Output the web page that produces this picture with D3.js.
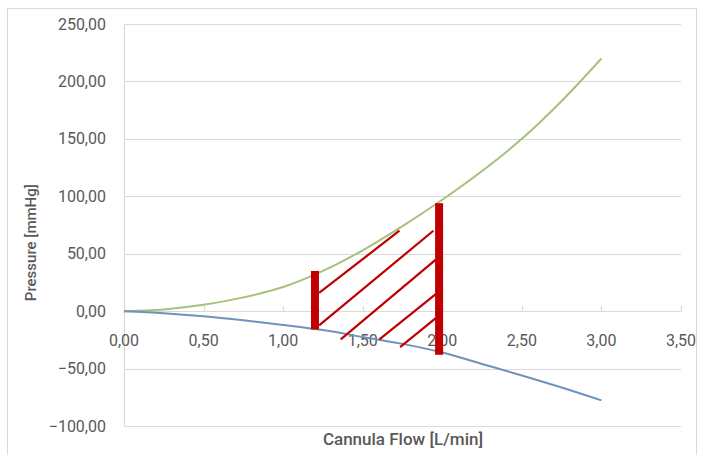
<!DOCTYPE html>
<html>
<head>
<meta charset="utf-8">
<script src="https://cdn.jsdelivr.net/npm/d3@7"></script>
<style>
  html, body { margin: 0; padding: 0; background: #fff; }
  svg { display: block; }
  text { font-family: Roboto, "Liberation Sans", sans-serif; }
</style>
</head>
<body>
<svg id="chart" width="704" height="455"></svg>
<script>
// ---- data ----
const flow = [0, 0.25, 0.5, 0.75, 1.0, 1.25, 1.5, 1.75, 2.0, 2.25, 2.5, 2.75, 3.0];
const upperPressure = [0, 1.5, 5.5, 12, 21, 35, 53, 74, 97, 122, 150, 183, 220];
const lowerPressure = [0, -1.8, -4.5, -8, -12, -16.5, -22.5, -28.5, -36, -46, -56, -66.5, -77.7];
const xTicks = [0, 0.5, 1.0, 1.5, 2.0, 2.5, 3.0, 3.5];
const yTicks = [-100, -50, 0, 50, 100, 150, 200, 250];
// operating-range markers (flow, pressure from, pressure to)
const rangeBarFlow = [1.2, 1.98];
const rangeBarLow = [-16, -38];
const rangeBarHigh = [35, 94];
// hatch segments: [x1, y1, x2, y2] in data units
const hatchX1 = [1.226, 1.226, 1.362, 1.605, 1.735];
const hatchY1 = [16.0, -12.4, -24.6, -24.6, -31.3];
const hatchX2 = [1.731, 1.944, 1.959, 1.959, 1.959];
const hatchY2 = [70.0, 70.0, 44.8, 14.9, -6.0];
const xTitle = "Cannula Flow [L/min]";
const yTitle = "Pressure [mmHg]";

// ---- drawing ----
const svg = d3.select("#chart");
const W = 704, H = 455;
svg.append("rect").attr("width", W).attr("height", H).attr("fill", "#fff");

// outer frame
svg.append("path").attr("d", `M7.5,${H} V8.5 H696.5 V${H}`)
  .attr("fill", "none").attr("stroke", "#d9d9d9").attr("stroke-width", 1);

const x = d3.scaleLinear().domain([0, 3.5]).range([124, 681]);
const y = d3.scaleLinear().domain([-100, 250]).range([426, 24]);

const loc = d3.formatLocale({decimal: ",", thousands: ".", grouping: [3], currency: ["", ""]});
const fmt = loc.format(".2f");

const grid = "#d9d9d9";
const textCol = "#595959";

// horizontal gridlines
svg.append("g").selectAll("line").data(yTicks).join("line")
  .attr("x1", x(0)).attr("x2", x(3.5))
  .attr("y1", d => Math.round(y(d)) + 0.5).attr("y2", d => Math.round(y(d)) + 0.5)
  .attr("stroke", grid).attr("stroke-width", 1.2);

// left axis line
svg.append("line")
  .attr("x1", Math.round(x(0)) + 0.5).attr("x2", Math.round(x(0)) + 0.5)
  .attr("y1", y(250)).attr("y2", y(-100))
  .attr("stroke", grid).attr("stroke-width", 1.2);

// x ticks on the zero line (pointing up)
svg.append("g").selectAll("line").data(xTicks).join("line")
  .attr("x1", d => Math.round(x(d)) + 0.5).attr("x2", d => Math.round(x(d)) + 0.5)
  .attr("y1", Math.round(y(0)) + 0.5).attr("y2", Math.round(y(0)) - 5)
  .attr("stroke", grid).attr("stroke-width", 1.2);

// y tick labels
svg.append("g").selectAll("text").data(yTicks).join("text")
  .attr("x", 106).attr("y", d => y(d))
  .attr("dy", "0.35em").attr("text-anchor", "end")
  .attr("font-size", 16).attr("fill", textCol)
  .text(d => fmt(d));

// x tick labels
svg.append("g").selectAll("text").data(xTicks).join("text")
  .attr("x", d => x(d)).attr("y", 340)
  .attr("dy", "0.35em").attr("text-anchor", "middle")
  .attr("font-size", 16).attr("fill", textCol)
  .text(d => fmt(d));

// axis titles
svg.append("text")
  .attr("transform", `translate(31,${y(50) - 11}) rotate(-90)`)
  .attr("text-anchor", "middle").attr("dy", "0.35em")
  .attr("font-size", 15).attr("font-weight", 500).attr("fill", textCol)
  .text(yTitle);
svg.append("text")
  .attr("x", 403).attr("y", 439).attr("dy", "0.35em")
  .attr("text-anchor", "middle")
  .attr("font-size", 17).attr("font-weight", 500).attr("fill", textCol)
  .text(xTitle);

// curves
const line = d3.line().x(d => x(d[0])).y(d => y(d[1])).curve(d3.curveCatmullRom);
svg.append("path").datum(flow.map((f, i) => [f, upperPressure[i]]))
  .attr("d", line).attr("fill", "none").attr("stroke", "#a6c17a").attr("stroke-width", 2);
svg.append("path").datum(flow.map((f, i) => [f, lowerPressure[i]]))
  .attr("d", line).attr("fill", "none").attr("stroke", "#6f93ba").attr("stroke-width", 2);

// hatch lines
const red = "#c00000";
svg.append("g").selectAll("line").data(hatchX1.map((d, i) => i)).join("line")
  .attr("x1", i => x(hatchX1[i])).attr("y1", i => y(hatchY1[i]))
  .attr("x2", i => x(hatchX2[i])).attr("y2", i => y(hatchY2[i]))
  .attr("stroke", red).attr("stroke-width", 2.2);

// range bars
svg.append("g").selectAll("rect").data(rangeBarFlow.map((d, i) => i)).join("rect")
  .attr("x", i => x(rangeBarFlow[i]) - 4).attr("width", 8)
  .attr("y", i => y(rangeBarHigh[i]))
  .attr("height", i => y(rangeBarLow[i]) - y(rangeBarHigh[i]))
  .attr("fill", red);
</script>
</body>
</html>
